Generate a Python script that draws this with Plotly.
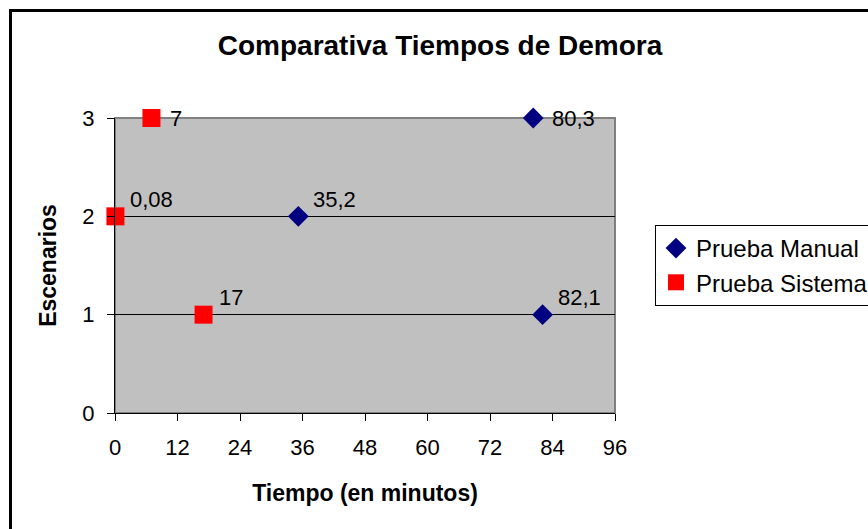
import plotly.graph_objects as go

# Data
escenarios = [3, 2, 1]
manual_tiempos = [80.3, 35.2, 82.1]
sistema_tiempos = [7, 0.08, 17]
x_ticks = [0, 12, 24, 36, 48, 60, 72, 84, 96]
y_ticks = [0, 1, 2, 3]

def fmt(v):
    return f"{v:g}".replace(".", ",")

FONT = "Arial, Liberation Sans, sans-serif"

fig = go.Figure()
fig.add_trace(go.Scatter(
    x=manual_tiempos, y=escenarios, mode="markers", name="Prueba Manual",
    marker=dict(symbol="diamond", size=16, color="#000080"), cliponaxis=False,
))
fig.add_trace(go.Scatter(
    x=sistema_tiempos, y=escenarios, mode="markers", name="Prueba Sistema",
    marker=dict(symbol="square", size=18, color="#FF0000"), cliponaxis=False,
))

annotations = []
for xs in (manual_tiempos, sistema_tiempos):
    for xv, yv in zip(xs, escenarios):
        top = yv == max(y_ticks)
        annotations.append(dict(
            x=xv, y=yv, xref="x", yref="y", text=fmt(xv), showarrow=False,
            xanchor="left", yanchor="middle",
            xshift=17 if top else 13, yshift=0 if top else 17,
            font=dict(size=22, family=FONT, color="black"),
        ))

W, H = 868, 529
L, R, T, B = 115, 253, 118, 116
pw, ph = W - L - R, H - T - B

fig.update_layout(
    width=W, height=H,
    margin=dict(l=L, r=R, t=T, b=B, autoexpand=False),
    paper_bgcolor="white", plot_bgcolor="#C0C0C0",
    font=dict(family=FONT, size=22, color="black"),
    title=dict(text="<b>Comparativa Tiempos de Demora</b>", x=440 / W,
               xanchor="center", y=1 - 45 / H, yanchor="middle",
               font=dict(size=28, family=FONT, color="black")),
    showlegend=True,
    legend=dict(x=(655 - L) / pw, xanchor="left", y=(H - B - 225) / ph, yanchor="top",
                bordercolor="black", borderwidth=1, bgcolor="white",
                font=dict(size=24, family=FONT, color="black"),
                itemclick=False),
    xaxis=dict(range=[0, 96], tickvals=x_ticks, ticktext=[str(v) for v in x_ticks],
               showgrid=False, zeroline=False, showline=True, linecolor="black", linewidth=1,
               ticks="outside", ticklen=7, tickcolor="black",
               tickfont=dict(size=22), ticklabelstandoff=8,
               title=dict(text="<b>Tiempo (en minutos)</b>", font=dict(size=23), standoff=25)),
    yaxis=dict(range=[0, 3], tickvals=y_ticks, ticktext=[str(v) for v in y_ticks],
               showgrid=True, gridcolor="black", gridwidth=1, zeroline=False,
               showline=True, linecolor="black", linewidth=1,
               ticks="outside", ticklen=7, tickcolor="black",
               tickfont=dict(size=22), ticklabelstandoff=8,
               title=dict(text="<b>Escenarios</b>", font=dict(size=23), standoff=19)),
    annotations=annotations,
    shapes=[
        dict(type="rect", xref="x domain", yref="y domain", x0=0, x1=1, y0=0, y1=1,
             line=dict(color="#808080", width=2), layer="below"),
        dict(type="rect", xref="paper", yref="paper",
             x0=(10.5 - L) / pw, x1=(W + 40 - L) / pw,
             y0=-(B + 40) / ph, y1=(H - B - 10.5) / ph,
             line=dict(color="black", width=3), fillcolor="rgba(0,0,0,0)", layer="above"),
    ],
)

fig.write_html("out.html", config={"displayModeBar": False},
               post_script="document.body.style.margin='0px';")
